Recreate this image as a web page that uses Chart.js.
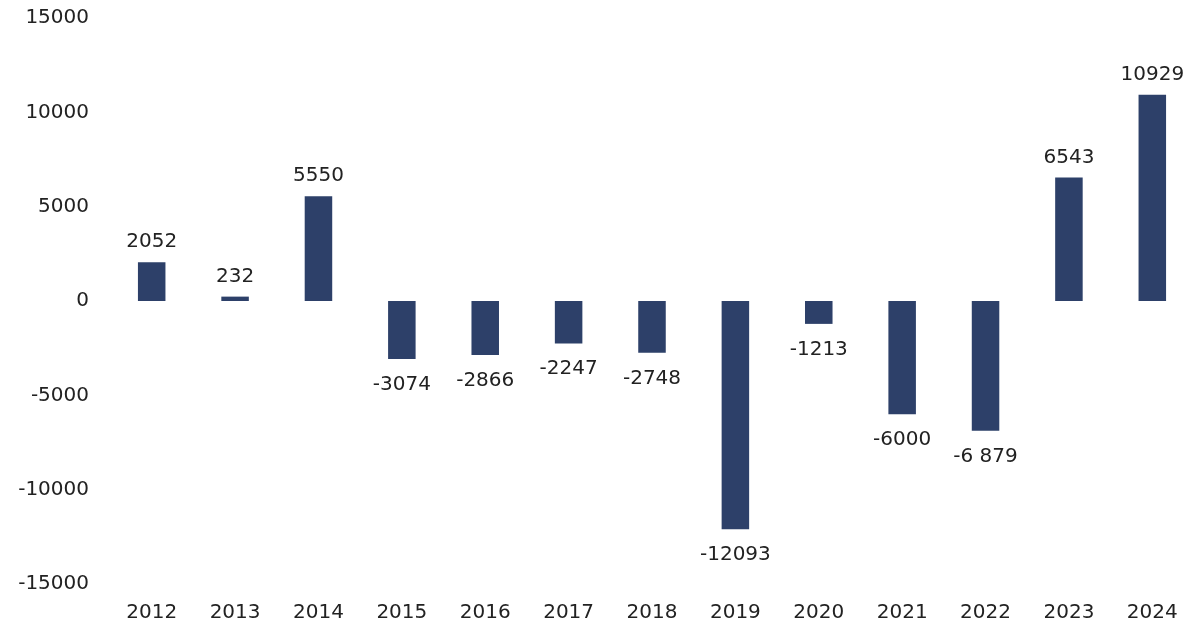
<!DOCTYPE html>
<html>
<head>
<meta charset="utf-8">
<script src="https://cdn.jsdelivr.net/npm/chart.js@4.4.1/dist/chart.umd.min.js"></script>
<style>
html,body{margin:0;padding:0;background:#fff;}
#wrap{width:1202px;height:625px;}
</style>
</head>
<body>
<div id="wrap"><canvas id="balanceChart" width="1202" height="625"></canvas></div>
<script>

// =========================
// DATA
// =========================

const years = ["2012","2013","2014","2015","2016","2017","2018","2019","2020","2021","2022","2023","2024"];

const values = [2052,232,5550,-3074,-2866,-2247,-2748,-12093,-1213,-6000,-6879,6543,10929];

const valueLabels = ["2052","232","5550","-3074","-2866","-2247","-2748","-12093","-1213","-6000","-6 879","6543","10929"];

const yTicks = [15000,10000,5000,0,-5000,-10000,-15000];

const barColor = "#2d4069";
const textColor = "#222222";
const fontFamily = "'DejaVu Sans', sans-serif";

// =========================
// LABELS ON BARS
// =========================

const barLabels = {
    id:"barLabels",
    afterDatasetsDraw(chart){
        const ctx = chart.ctx;
        const meta = chart.getDatasetMeta(0);
        ctx.save();
        ctx.font = "20px " + fontFamily;
        ctx.fillStyle = textColor;
        ctx.textAlign = "center";
        ctx.textBaseline = "alphabetic";
        meta.data.forEach((bar,i)=>{
            if(values[i] >= 0){
                ctx.fillText(valueLabels[i], bar.x, bar.y - 15);
            } else {
                ctx.fillText(valueLabels[i], bar.x, bar.y + 31);
            }
        });
        ctx.restore();
    }
};

new Chart(document.getElementById("balanceChart"),{

    type:"bar",

    data:{
        labels:years,
        datasets:[{
            data:values,
            backgroundColor:barColor,
            borderWidth:0,
            barPercentage:0.33,
            categoryPercentage:1
        }]
    },

    options:{
        responsive:false,
        animation:false,
        devicePixelRatio:1,
        layout:{
            padding:{top:18,right:8,bottom:3,left:0}
        },
        plugins:{
            legend:{display:false},
            tooltip:{enabled:false}
        },
        scales:{
            y:{
                min:-15000,
                max:15000,
                afterBuildTicks(scale){
                    scale.ticks = yTicks.map(v=>({value:v}));
                },
                afterFit(scale){
                    scale.width = 110;
                    scale.paddingTop = 0;
                    scale.paddingBottom = 0;
                },
                grid:{display:false,drawTicks:false},
                border:{display:false},
                ticks:{
                    padding:21,
                    color:textColor,
                    font:{family:fontFamily,size:20},
                    callback:(v)=>String(v)
                }
            },
            x:{
                afterFit(scale){
                    scale.height = 38;
                },
                grid:{display:false,drawTicks:false},
                border:{display:false},
                ticks:{
                    padding:17,
                    color:textColor,
                    font:{family:fontFamily,size:20}
                }
            }
        }
    },

    plugins:[barLabels]
});
</script>
</body>
</html>
